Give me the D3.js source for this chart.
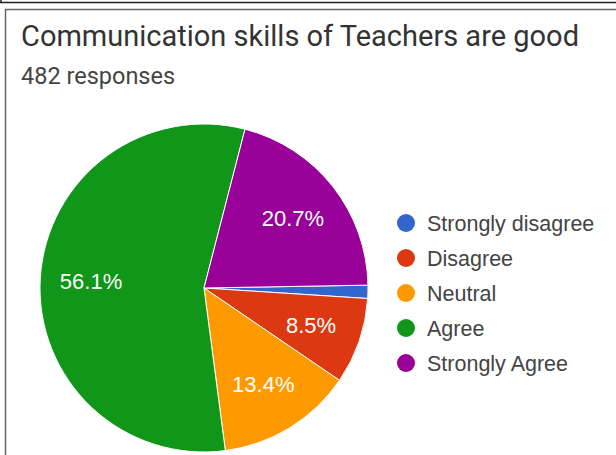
<!DOCTYPE html>
<meta charset="utf-8">
<html>
<style>
	body { margin: 0; background: #fff; }
	svg { display: block; }
	.title { font-family: Roboto, sans-serif; fill: #333; }
	.legend text, .label { font-family: "Liberation Sans", Arial, sans-serif; }
</style>
<body>
	<script src="https://d3js.org/d3.v7.min.js"></script>
	<script type="text/javascript">
		var categories = ["Strongly disagree", "Disagree", "Neutral", "Agree", "Strongly Agree"];
		var percents = [1.3, 8.5, 13.4, 56.1, 20.7];
		var colors = ["#3366cc", "#dc3912", "#ff9900", "#109618", "#990099"];
		var titleText = "Communication skills of Teachers are good";
		var subtitleText = "482 responses";

		var width = 616, height = 455;
		var cx = 204, cy = 288, radius = 164;

		var svg = d3.select("body").append("svg")
			.attr("width", width)
			.attr("height", height);

		// frame lines (bottom of previous card + this card)
		svg.append("line").attr("x1", 0).attr("x2", width).attr("y1", 2.5).attr("y2", 2.5)
			.attr("stroke", "#222").attr("stroke-width", 1.5);
		svg.append("line").attr("x1", 1).attr("x2", 1).attr("y1", 0).attr("y2", 3)
			.attr("stroke", "#222").attr("stroke-width", 1.5);
		svg.append("path").attr("d", "M5.5," + height + "V9.5H" + width)
			.attr("fill", "none").attr("stroke", "#666").attr("stroke-width", 1.5);

		svg.append("text").attr("class", "title")
			.attr("x", 21).attr("y", 46)
			.style("font-size", "29px")
			.text(titleText);

		svg.append("text").attr("class", "title")
			.attr("x", 21).attr("y", 84)
			.style("font-size", "23.5px")
			.style("fill", "#444")
			.text(subtitleText);

		var color = d3.scaleOrdinal().domain(categories).range(colors);

		var startAngle = 89 * Math.PI / 180;
		var pie = d3.pie()
			.sort(null)
			.value(function (d) { return d.value; })
			.startAngle(startAngle)
			.endAngle(startAngle + 2 * Math.PI);

		var data = categories.map(function (c, i) { return { name: c, value: percents[i] }; });
		var arcs = pie(data);

		var arc = d3.arc().innerRadius(0).outerRadius(radius);
		var labelArc = d3.arc().innerRadius(radius * 0.69).outerRadius(radius * 0.69);

		var g = svg.append("g").attr("transform", "translate(" + cx + "," + cy + ")");

		g.selectAll("path.slice")
			.data(arcs)
			.enter().append("path")
			.attr("class", "slice")
			.attr("d", arc)
			.attr("fill", function (d) { return color(d.data.name); })
			.attr("stroke", "#fff")
			.attr("stroke-width", 1);

		g.selectAll("text.label")
			.data(arcs.filter(function (d) { return d.data.value >= 5; }))
			.enter().append("text")
			.attr("class", "label")
			.attr("transform", function (d) { return "translate(" + labelArc.centroid(d) + ")"; })
			.attr("text-anchor", "middle")
			.attr("dy", "0.35em")
			.style("font-size", "22px")
			.style("fill", "#fff")
			.text(function (d) { return d.data.value.toFixed(1) + "%"; });

		// legend
		var legend = svg.append("g").attr("class", "legend")
			.attr("transform", "translate(406,223)");

		var item = legend.selectAll("g")
			.data(categories)
			.enter().append("g")
			.attr("transform", function (d, i) { return "translate(0," + (i * 35) + ")"; });

		item.append("circle")
			.attr("r", 9)
			.attr("fill", function (d) { return color(d); });

		item.append("text")
			.attr("x", 21)
			.attr("dy", "0.35em")
			.style("font-size", "21.5px")
			.style("fill", "#444")
			.text(function (d) { return d; });
	</script>
</body>
</html>
